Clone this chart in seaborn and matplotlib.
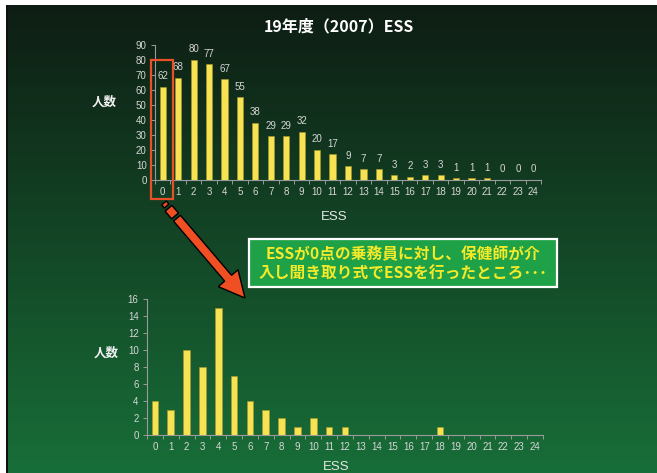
import numpy as np
import matplotlib
matplotlib.use("Agg")
import matplotlib.pyplot as plt
from matplotlib.patches import Rectangle, Polygon
import seaborn as sns

# ESS score distribution, FY2007
ess_scores = list(range(25))
counts_all = [62, 68, 80, 77, 67, 55, 38, 29, 29, 32, 20, 17, 9, 7, 7,
              3, 2, 3, 3, 1, 1, 1, 0, 0, 0]
# re-interview of crew members who scored 0
counts_retest = [4, 3, 10, 8, 15, 7, 4, 3, 2, 1, 2, 1, 1, 0, 0,
                 0, 0, 0, 1, 0, 0, 0, 0, 0, 0]

title = "19年度（2007）ESS"
ylabel = "人数"
xlabel = "ESS"
note_lines = ["ESSが0点の乗務員に対し、保健師が介",
              "入し聞き取り式でESSを行ったところ･･･"]

sns.set_theme(style="white")
plt.rcParams["font.family"] = ["Liberation Sans", "Noto Sans CJK JP", "DejaVu Sans"]

W, H = 657, 473
fig = plt.figure(figsize=(W / 100, H / 100), dpi=100)


def fx(x):
    return x / W


def fy(y):
    return 1 - y / H


# background gradient
bg = fig.add_axes([0, 0, 1, 1], zorder=-10)
top_c = np.array([14, 28, 19]) / 255
bot_c = np.array([24, 110, 56]) / 255
t = np.linspace(0, 1, 256)[:, None]
grad = top_c[None, :] * (1 - t) + bot_c[None, :] * t
bg.imshow(grad[:, None, :].repeat(4, axis=1), aspect="auto", extent=[0, 1, 0, 1])
bg.set_axis_off()

# white frame on top/left with thin dark line
fig.patches.append(Rectangle((0, fy(5)), 1, 5 / H, transform=fig.transFigure,
                             facecolor="white", edgecolor="none", zorder=5))
fig.patches.append(Rectangle((0, 0), fx(6), 1, transform=fig.transFigure,
                             facecolor="white", edgecolor="none", zorder=5))
fig.patches.append(Rectangle((fx(6), 0), fx(2), fy(5), transform=fig.transFigure,
                             facecolor="#111111", edgecolor="none", zorder=5))

bar_color = "#f6e253"
axis_color = "#9a9a9a"
tick_color = "#d6d6d6"


def style_axes(ax, ymax, ystep):
    ax.set_facecolor("none")
    ax.set_xlim(-0.5, 24.5)
    ax.set_ylim(0, ymax)
    ax.set_yticks(np.arange(0, ymax + 1, ystep))
    ax.set_xticks(range(25))
    ax.set_xticklabels([str(v) for v in ess_scores])
    ax.set_xticks(np.arange(-0.5, 25, 1), minor=True)
    for s in ["top", "right"]:
        ax.spines[s].set_visible(False)
    for s in ["left", "bottom"]:
        ax.spines[s].set_color(axis_color)
        ax.spines[s].set_linewidth(0.8)
    ax.tick_params(axis="x", which="major", length=0, pad=5,
                   labelsize=7, labelcolor=tick_color)
    ax.tick_params(axis="x", which="minor", length=3, width=0.7,
                   color=axis_color, direction="out", bottom=True)
    ax.tick_params(axis="y", which="major", length=3, width=0.7,
                   color=axis_color, direction="out", left=True,
                   labelsize=7, labelcolor=tick_color, pad=3)
    ax.set_xlabel("")
    ax.set_ylabel("")


# top chart
ax1 = fig.add_axes([fx(155), fy(180), fx(541) - fx(155), fy(45) - fy(180)])
sns.barplot(x=ess_scores, y=counts_all, ax=ax1, color=bar_color, width=0.4,
            saturation=1, edgecolor="#a99a2a", linewidth=0.4)
style_axes(ax1, 90, 10)
ax1.bar_label(ax1.containers[0], labels=[str(v) for v in counts_all],
              padding=4, fontsize=7, color=tick_color)

# bottom chart
ax2 = fig.add_axes([fx(147), fy(435), fx(543) - fx(147), fy(299) - fy(435)])
sns.barplot(x=ess_scores, y=counts_retest, ax=ax2, color=bar_color, width=0.42,
            saturation=1, edgecolor="#a99a2a", linewidth=0.4)
style_axes(ax2, 16, 2)

# titles and axis labels
fig.text(fx(339), fy(26), title, ha="center", va="center", fontsize=11.5,
         fontweight="bold", color="white",
         family=["Noto Sans CJK JP", "DejaVu Sans"])
for (x, y) in [(334, 217), (336, 467)]:
    fig.text(fx(x), fy(y), xlabel, ha="center", va="center", fontsize=9.5,
             color="#e8e8e8")
for (x, y) in [(104, 102), (106, 353)]:
    fig.text(fx(x), fy(y), ylabel, ha="center", va="center", fontsize=9,
             fontweight="bold", color="#f0f0f0",
             family=["Noto Sans CJK JP", "DejaVu Sans"])

# highlight box around the score-0 bar
fig.patches.append(Rectangle((fx(151), fy(199)), fx(173) - fx(151), fy(60) - fy(199),
                             transform=fig.transFigure, facecolor="none",
                             edgecolor="#e8502a", linewidth=1.6, zorder=6))

# arrow from highlight box down to the second chart
start = np.array([164.0, 203.0])
tip = np.array([245.0, 298.0])
d = tip - start
L = np.hypot(*d)
u = d / L
n = np.array([-u[1], u[0]])


def seg(s0, s1, half):
    a = start + u * s0
    b = start + u * s1
    return [a + n * half, b + n * half, b - n * half, a - n * half]


def to_fig(pts):
    return [(fx(p[0]), fy(p[1])) for p in pts]


head_len, head_half, body_half = 26, 13, 4.5
pieces = [seg(0, 4, 3.0), seg(7, 17, body_half)]
base = L - head_len
body = seg(20, base, body_half)
hb = start + u * base
arrow_pts = [body[0], body[1], hb + n * head_half, tip, hb - n * head_half,
             body[2], body[3]]
for pts in pieces + [arrow_pts]:
    fig.patches.append(Polygon(to_fig(pts), closed=True, transform=fig.transFigure,
                               facecolor="#f04e23", edgecolor="black",
                               linewidth=1.0, zorder=6))

# note box
fig.patches.append(Rectangle((fx(249), fy(287)), fx(557) - fx(249), fy(239) - fy(287),
                             transform=fig.transFigure, facecolor="#1fa247",
                             edgecolor="white", linewidth=1.6, zorder=6))
for line, y in zip(note_lines, [254, 274]):
    fig.text(fx(403), fy(y), line, ha="center", va="center", fontsize=11.3,
             fontweight="bold", color="#f4ea2a", zorder=7,
             family=["Noto Sans CJK JP", "DejaVu Sans"])

fig.savefig("out.png", dpi=100)
